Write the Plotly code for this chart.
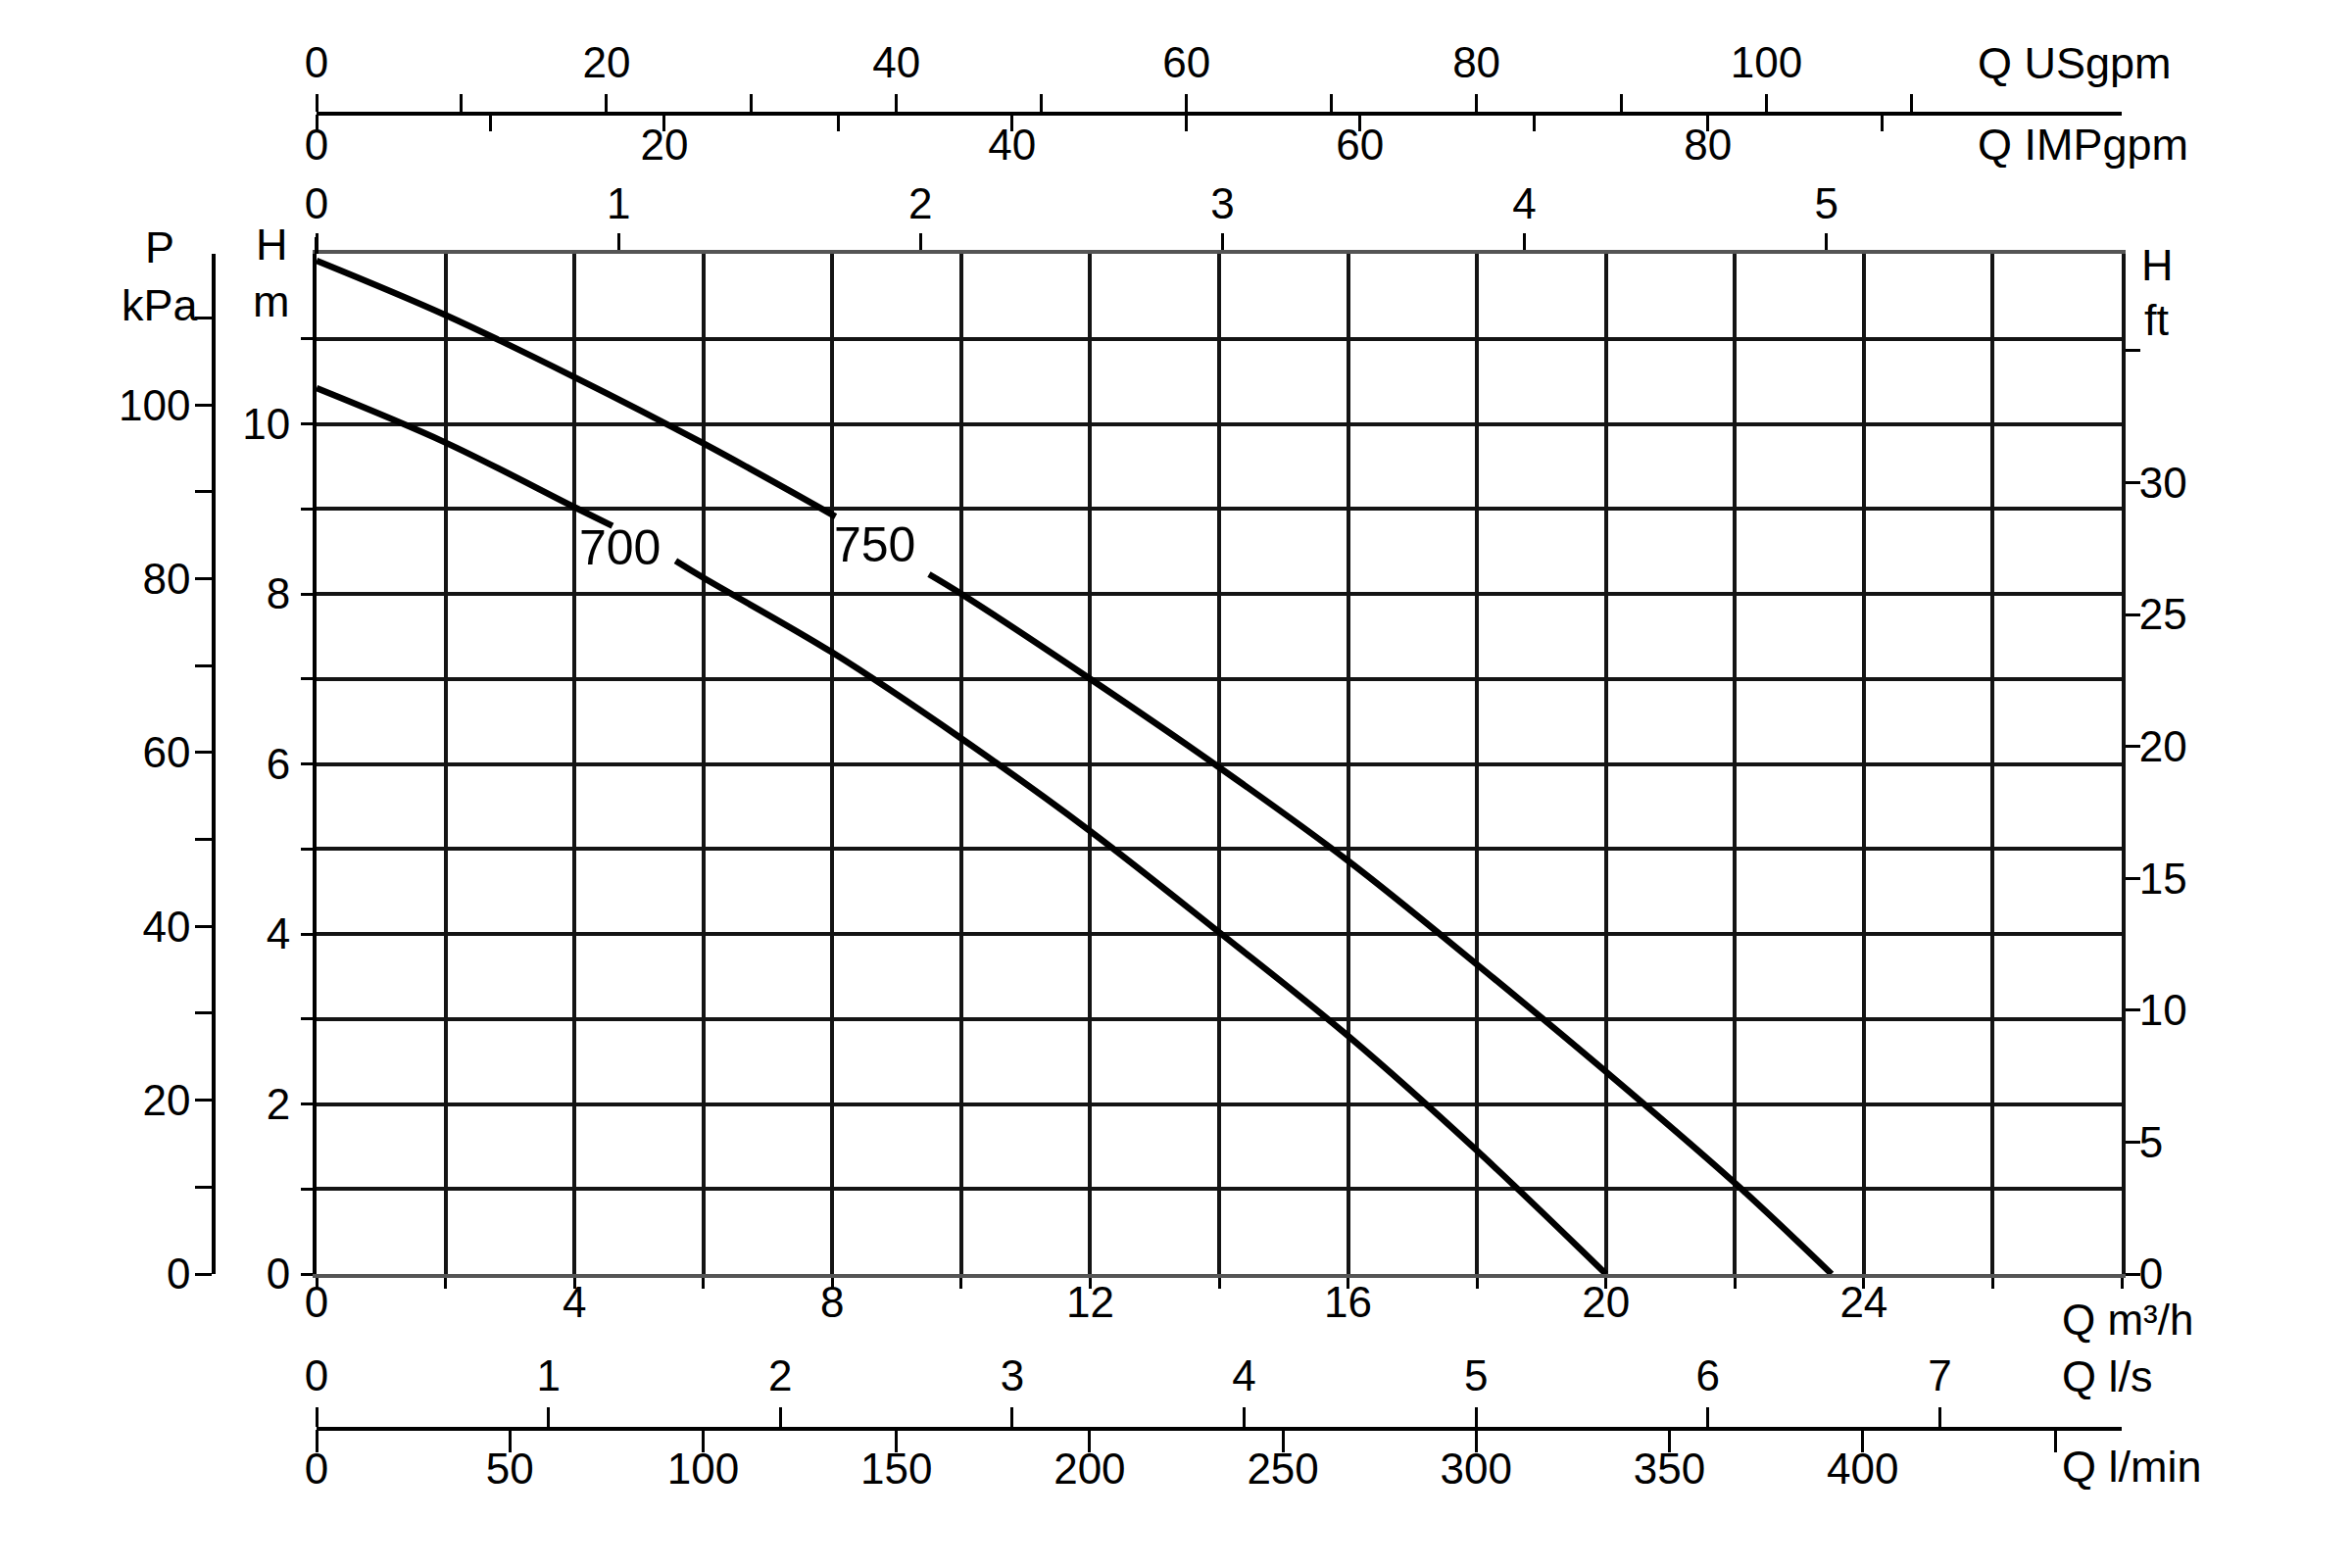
import plotly.graph_objects as go

# ---------------- data ----------------
# Pump curves: Q in m3/h, H in m (each curve split where its label interrupts it)
q700_a = [0, 2, 4, 4.59]
h700_a = [10.42, 9.78, 9.02, 8.80]
q700_b = [5.57, 6, 8, 10, 12, 14, 16, 18, 20]
h700_b = [8.39, 8.19, 7.31, 6.30, 5.21, 4.02, 2.80, 1.45, 0.0]

q750_a = [0, 2, 4, 6, 8.05]
h750_a = [11.92, 11.28, 10.55, 9.77, 8.91]
q750_b = [9.5, 10, 12, 14, 16, 18, 20, 22, 23.5]
h750_b = [8.23, 8.00, 7.00, 5.96, 4.86, 3.64, 2.38, 1.07, 0.0]

curve_names = ["700", "750"]
label_pos = {"700": (4.71, 8.54), "750": (8.65, 8.58)}

# Axis ticks
q_m3h_ticks = list(range(0, 29, 2))
q_m3h_labels = [0, 4, 8, 12, 16, 20, 24]
h_m_ticks = list(range(0, 12))
h_m_labels = [0, 2, 4, 6, 8, 10]
h_ft_ticks = list(range(0, 36, 5))
h_ft_labels = [0, 5, 10, 15, 20, 25, 30]
p_kpa_ticks = list(range(0, 111, 10))
p_kpa_labels = [0, 20, 40, 60, 80, 100]
top_ticks = [0, 1, 2, 3, 4, 5]
us_ticks = list(range(0, 111, 10))
us_labels = [0, 20, 40, 60, 80, 100]
imp_ticks = list(range(0, 91, 10))
imp_labels = [0, 20, 40, 60, 80]
ls_ticks = [0, 1, 2, 3, 4, 5, 6, 7]
lmin_ticks = list(range(0, 451, 50))
lmin_labels = [0, 50, 100, 150, 200, 250, 300, 350, 400]

# Axis ranges (scale factors as drawn on the chart)
q_max = 28
h_max = 12
top_max = 5.978
us_max = 124.5
imp_max = 103.8
ls_max = 7.784
lmin_max = 467
ft_max = 38.67
kpa_max = 117.4

# ---------------- layout geometry ----------------
W, H = 2400, 1600
PX0, PX1 = 315, 2157      # plot left/right px
PY0, PY1 = 251, 1292      # plot top/bottom px
dx = [PX0 / W, PX1 / W]
dy = [1 - PY1 / H, 1 - PY0 / H]

FONT = "Liberation Sans, Arial, sans-serif"
NARROW = "Liberation Sans Narrow, Liberation Sans, Arial, sans-serif"
TS = 44  # tick font size


def tt(vals, labeled):
    return [str(v) if v in labeled else "" for v in vals]


def px(x):
    return x / W


def py(y):
    return 1 - y / H


fig = go.Figure()

for q, h in [(q700_a, h700_a), (q700_b, h700_b), (q750_a, h750_a), (q750_b, h750_b)]:
    fig.add_trace(go.Scatter(x=q, y=h, mode="lines",
                             line=dict(color="black", width=6.5, shape="spline", smoothing=1.0),
                             hoverinfo="skip", showlegend=False))

# dummy traces so every secondary axis is rendered
for xa, ya in [("x2", "y"), ("x3", "y"), ("x4", "y"), ("x5", "y"), ("x6", "y"), ("x", "y2"), ("x", "y3")]:
    fig.add_trace(go.Scatter(x=[None], y=[None], xaxis=xa, yaxis=ya, mode="markers",
                             hoverinfo="skip", showlegend=False))

tick_common = dict(tickmode="array", ticks="outside", tickcolor="black", tickwidth=3,
                   zeroline=False, automargin=False, fixedrange=True, showgrid=False,
                   tickfont=dict(family=FONT, size=TS, color="black"))

fig.update_layout(
    width=W, height=H, margin=dict(l=0, r=0, t=0, b=0),
    paper_bgcolor="white", plot_bgcolor="white", showlegend=False,
    font=dict(family=FONT, size=TS, color="black"),
    xaxis=dict(domain=dx, range=[0, q_max], anchor="y", side="bottom",
               tickvals=q_m3h_ticks, ticktext=tt(q_m3h_ticks, q_m3h_labels),
               ticklen=11, ticklabelstandoff=-24,
               showline=True, linecolor="#555", linewidth=4,
               **{**tick_common, "showgrid": True}, gridcolor="#141414", gridwidth=3.5),
    yaxis=dict(domain=dy, range=[0, h_max], anchor="x",
               tickvals=h_m_ticks, ticktext=tt(h_m_ticks, h_m_labels),
               ticklen=12, ticklabelstandoff=2,
               showline=True, linecolor="black", linewidth=4,
               **{**tick_common, "showgrid": True}, gridcolor="#141414", gridwidth=3.5),
    yaxis2=dict(overlaying="y", anchor="x", side="right", range=[0, ft_max],
                tickvals=h_ft_ticks, ticktext=tt(h_ft_ticks, h_ft_labels),
                ticklen=15, ticklabelstandoff=-10,
                showline=True, linecolor="#111", linewidth=4, **tick_common),
    yaxis3=dict(overlaying="y", anchor="free", position=210 / W, side="left", range=[0, kpa_max],
                tickvals=p_kpa_ticks, ticktext=tt(p_kpa_ticks, p_kpa_labels),
                ticklen=17, ticklabelstandoff=-4,
                showline=True, linecolor="black", linewidth=3.5, **tick_common),
    xaxis2=dict(overlaying="x", anchor="y", side="top", range=[0, top_max],
                tickvals=top_ticks, ticktext=[str(v) for v in top_ticks],
                ticklen=17, ticklabelstandoff=-3,
                showline=True, linecolor="#555", linewidth=4, **tick_common),
    xaxis3=dict(overlaying="x", anchor="free", position=py(108), side="top", range=[0, us_max],
                tickvals=us_ticks, ticktext=tt(us_ticks, us_labels),
                ticklen=18, ticklabelstandoff=-1,
                showline=True, linecolor="black", linewidth=4, **tick_common),
    xaxis4=dict(overlaying="x", anchor="free", position=py(108), side="bottom", range=[0, imp_max],
                tickvals=imp_ticks, ticktext=tt(imp_ticks, imp_labels),
                ticklen=17, ticklabelstandoff=-24,
                showline=False, **tick_common),
    xaxis5=dict(overlaying="x", anchor="free", position=py(1450), side="top", range=[0, ls_max],
                tickvals=ls_ticks, ticktext=[str(v) for v in ls_ticks],
                ticklen=20, ticklabelstandoff=0,
                showline=True, linecolor="black", linewidth=3.5, **tick_common),
    xaxis6=dict(overlaying="x", anchor="free", position=py(1450), side="bottom", range=[0, lmin_max],
                tickvals=lmin_ticks, ticktext=tt(lmin_ticks, lmin_labels),
                ticklen=23, ticklabelstandoff=-21,
                showline=False, **tick_common),
)

# small extension of the H axis line above the plot
fig.add_shape(type="line", xref="paper", yref="paper", x0=px(PX0), x1=px(PX0), y0=py(PY0), y1=py(234),
              line=dict(color="black", width=4))

# curve labels
for name in curve_names:
    qx, hy = label_pos[name]
    fig.add_annotation(x=qx, y=hy, xref="x", yref="y", text=name, showarrow=False,
                       font=dict(family=NARROW, size=50, color="black"))

# unit labels
units = [
    ("P", 155, 245, "center", 45), ("kPa", 155, 304, "center", 45),
    ("H", 269, 241, "center", 45), ("m", 269, 299, "center", 45),
    ("H", 2193, 263, "center", 45), ("ft", 2193, 318, "center", 45),
    ("Q USgpm", 2008, 56, "left", 45), ("Q IMPgpm", 2008, 139, "left", 45),
    ("Q m³/h", 2094, 1338, "left", 44), ("Q l/s", 2094, 1396, "left", 45),
    ("Q l/min", 2094, 1488, "left", 45),
]
for text, x, y, anchor, size in units:
    fig.add_annotation(x=px(x), y=py(y), xref="paper", yref="paper", text=text, showarrow=False,
                       xanchor=anchor, yanchor="middle", font=dict(family=FONT, size=size, color="black"))

fig.write_html("out.html")
